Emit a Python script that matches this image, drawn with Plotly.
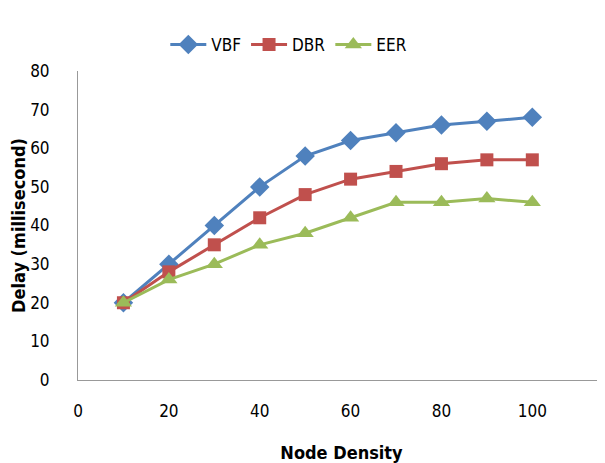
import plotly.graph_objects as go

node_density = [10, 20, 30, 40, 50, 60, 70, 80, 90, 100]
vbf = [20, 30, 40, 50, 58, 62, 64, 66, 67, 68]
dbr = [20, 28, 35, 42, 48, 52, 54, 56, 57, 57]
eer = [20, 26, 30, 35, 38, 42, 46, 46, 47, 46]
x_ticks = [0, 20, 40, 60, 80, 100]
y_ticks = [0, 10, 20, 30, 40, 50, 60, 70, 80]

font_family = "DejaVu Sans Condensed, Liberation Sans Narrow, sans-serif"

fig = go.Figure()
fig.add_trace(go.Scatter(x=node_density, y=vbf, name="VBF", mode="lines+markers",
                         line=dict(color="#4F81BD", width=3),
                         marker=dict(symbol="diamond", size=15, color="#4F81BD")))
fig.add_trace(go.Scatter(x=node_density, y=dbr, name="DBR", mode="lines+markers",
                         line=dict(color="#C0504D", width=3),
                         marker=dict(symbol="square", size=13, color="#C0504D")))
fig.add_trace(go.Scatter(x=node_density, y=eer, name="EER", mode="lines+markers",
                         line=dict(color="#9BBB59", width=3),
                         marker=dict(symbol="triangle-up", size=15, color="#9BBB59")))

fig.update_layout(
    width=597, height=455,
    margin=dict(l=70, r=0, t=63, b=83, autoexpand=False),
    paper_bgcolor="white", plot_bgcolor="white",
    font=dict(family=font_family, size=17, color="black"),
    showlegend=True,
    legend=dict(orientation="h", x=0.40, xanchor="center", y=1.084, yanchor="middle",
                font=dict(size=17), itemwidth=36, tracegroupgap=0),
    xaxis=dict(range=[0, 116], tickvals=x_ticks, showgrid=False, zeroline=False,
               showline=True, linecolor="#999999", linewidth=1, ticks="",
               automargin=False, ticklabelstandoff=16,
               title=dict(text="<b>Node Density</b>", font=dict(size=18), standoff=26)),
    yaxis=dict(range=[0, 80], tickvals=y_ticks, showgrid=False, zeroline=False,
               showline=True, linecolor="#999999", linewidth=1, ticks="",
               ticklabelstandoff=24, automargin=False,
               title=dict(text="<b>Delay (millisecond)</b>", font=dict(size=18), standoff=6)),
)

fig.write_html("out.html")
